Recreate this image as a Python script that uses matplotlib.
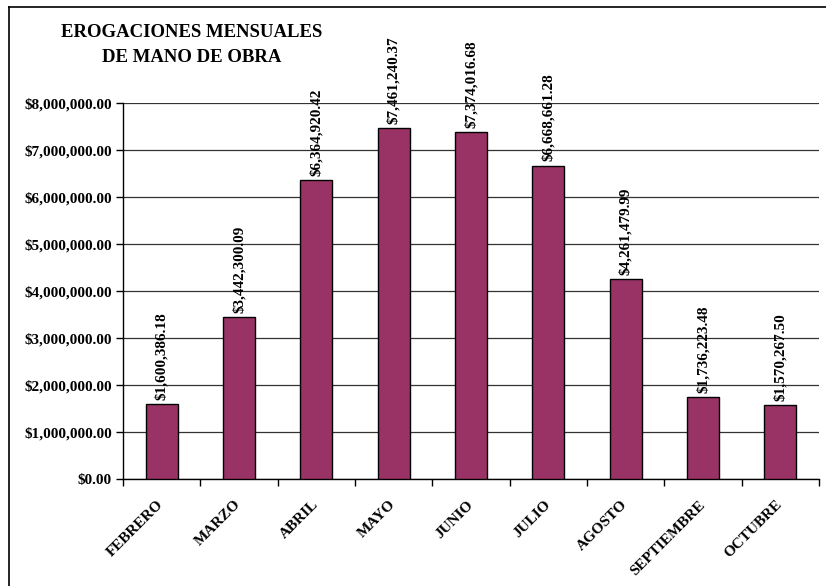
import numpy as np
import matplotlib.pyplot as plt
import matplotlib.transforms as mtransforms
from matplotlib.ticker import FuncFormatter, FixedLocator
from matplotlib.lines import Line2D

# monthly labour expenses
meses = ["FEBRERO", "MARZO", "ABRIL", "MAYO", "JUNIO",
         "JULIO", "AGOSTO", "SEPTIEMBRE", "OCTUBRE"]
montos = [1600386.18, 3442300.09, 6364920.42, 7461240.37, 7374016.68,
          6668661.28, 4261479.99, 1736223.48, 1570267.50]
titulo = "EROGACIONES MENSUALES\nDE MANO DE OBRA"

BAR_COLOR = "#993366"
FONT = "Liberation Serif"

plt.rcParams["font.family"] = FONT
plt.rcParams["font.weight"] = "bold"

fig = plt.figure(figsize=(8.26, 5.86), dpi=100)
ax = fig.add_axes([123 / 826, 1 - 479 / 586, (819 - 123) / 826, (479 - 103) / 586])

x = np.arange(len(meses))
bars = ax.bar(x, montos, width=0.41, color=BAR_COLOR, edgecolor="black",
              linewidth=1.0, zorder=3)

for xi, v in zip(x, montos):
    ax.annotate(f"${v:,.2f}", (xi, v), xytext=(0, 3), textcoords="offset points",
                rotation=90, ha="center", va="bottom", fontsize=11,
                fontweight="bold", zorder=4)

ax.set_xlim(-0.5, len(meses) - 0.5)
ax.set_ylim(0, 8000000)
ax.yaxis.set_major_locator(FixedLocator(np.arange(0, 8000001, 1000000)))
ax.yaxis.set_major_formatter(FuncFormatter(lambda v, p: f"${v:,.2f}"))
ax.grid(axis="y", color="#333333", linewidth=0.9, zorder=0)

ax.set_xticks(x)
ax.set_xticklabels(meses, rotation=45, ha="right", va="center",
                   rotation_mode="anchor", fontsize=11, fontweight="bold")
shift = mtransforms.ScaledTranslation(-6 / 100, 0, fig.dpi_scale_trans)
for lab in ax.get_xticklabels():
    lab.set_transform(lab.get_transform() + shift)
ax.set_xticks(np.arange(-0.5, len(meses), 1), minor=True)
ax.tick_params(axis="x", which="major", length=0, pad=17)
ax.tick_params(axis="x", which="minor", length=5, width=1, direction="out")
ax.tick_params(axis="y", length=5, width=1, direction="out", labelsize=11, pad=3)
for lab in ax.get_yticklabels():
    lab.set_fontweight("bold")

for s in ["top", "right"]:
    ax.spines[s].set_visible(False)
for s in ["left", "bottom"]:
    ax.spines[s].set_color("black")
    ax.spines[s].set_linewidth(1.0)

fig.text(192 / 826, 1 - 45 / 586, titulo, ha="center", va="center",
         fontsize=13.5, fontweight="bold", linespacing=1.55)

# outer chart frame (only top and left visible in the crop)
fig.add_artist(Line2D([9 / 826, 1.0], [1 - 7 / 586, 1 - 7 / 586],
                      transform=fig.transFigure, color="black", linewidth=1.2))
fig.add_artist(Line2D([9 / 826, 9 / 826], [0.0, 1 - 7 / 586],
                      transform=fig.transFigure, color="black", linewidth=1.2))

fig.savefig("out.png", dpi=100)
